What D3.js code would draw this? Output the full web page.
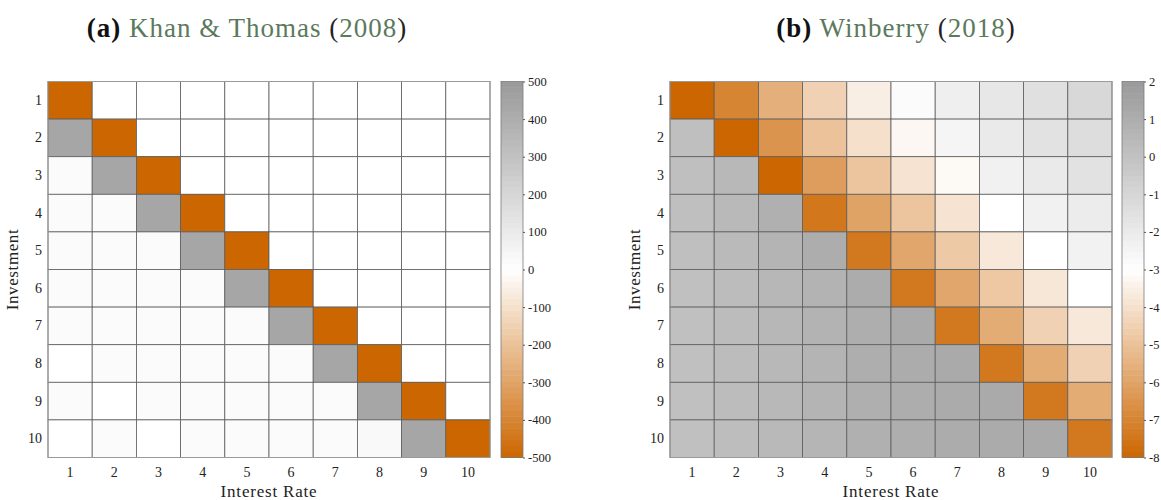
<!DOCTYPE html>
<html>
<head>
<meta charset="utf-8">
<script src="https://cdn.jsdelivr.net/npm/d3@7"></script>
<style>
  body { margin: 0; background: #fff; }
  svg text { font-family: "Liberation Serif", "DejaVu Serif", serif; fill: #222; }
</style>
</head>
<body>
<div id="chart"></div>
<script>
const W = 1161, H = 500;

// categories
const rates = ["1", "2", "3", "4", "5", "6", "7", "8", "9", "10"];
const invest = ["1", "2", "3", "4", "5", "6", "7", "8", "9", "10"];

// (a) Khan & Thomas (2008) -- rows = investment, cols = interest rate
const khanThomas = [
  [-500,    0,    0,    0,    0,    0,    0,    0,    0,    0],
  [ 435, -500,    0,    0,    0,    0,    0,    0,    0,    0],
  [  22,  435, -500,    0,    0,    0,    0,    0,    0,    0],
  [  22,   22,  435, -500,    0,    0,    0,    0,    0,    0],
  [  22,   22,   22,  435, -500,    0,    0,    0,    0,    0],
  [  22,   22,   22,   22,  435, -500,    0,    0,    0,    0],
  [  22,   22,   22,   22,   18,  435, -500,    0,    0,    0],
  [   2,   22,   22,   22,   22,   22,  435, -500,    0,    0],
  [  22,    2,   22,   22,   22,   22,   22,  435, -500,    0],
  [   2,   22,    2,   20,   22,   22,   22,   30,  435, -500]
];

// (b) Winberry (2018)
const winberry = [
  [-8.0, -7.0, -5.6, -4.5, -3.55, -2.8, -2.2, -1.8, -1.5, -1.1],
  [0.15, -8.0, -6.5, -5.0, -4.0, -3.25, -2.5, -1.95, -1.6, -1.35],
  [0.15, 0.5, -8.0, -6.2, -4.9, -3.9, -3.2, -2.3, -1.95, -1.6],
  [0.12, 0.45, 0.85, -7.45, -6.0, -4.9, -3.9, -3.0, -2.3, -2.05],
  [0.12, 0.4, 0.7, 1.0, -7.4, -5.9, -4.75, -3.75, -3.0, -2.35],
  [0.1, 0.3, 0.55, 0.75, 1.05, -7.4, -5.9, -4.8, -3.8, -3.0],
  [0.1, 0.3, 0.55, 0.75, 0.95, 1.15, -7.4, -5.7, -4.5, -3.75],
  [0.1, 0.3, 0.5, 0.7, 0.95, 1.05, 1.15, -7.4, -5.7, -4.5],
  [0.1, 0.3, 0.5, 0.7, 0.9, 1.0, 1.1, 1.15, -7.4, -5.7],
  [0.1, 0.25, 0.45, 0.65, 0.85, 0.95, 1.05, 1.1, 1.15, -7.4]
];

// colorbar ticks
const ticksA = [500, 400, 300, 200, 100, 0, -100, -200, -300, -400, -500];
const ticksB = [2, 1, 0, -1, -2, -3, -4, -5, -6, -7, -8];

const svg = d3.select("#chart").append("svg")
  .attr("width", W).attr("height", H);

const green = "#5b7a5c";

function panel(opts) {
  const {data, x0, x1, cb0, domain, ticks, tag, author, year, titleX} = opts;
  const y0 = 81.5, y1 = 457.5;

  const color = d3.scaleLinear()
    .domain([domain[0], (domain[0] + domain[1]) / 2, domain[1]])
    .range(["#cc6600", "#ffffff", "#999999"]);

  const x = d3.scaleBand().domain(rates).range([x0, x1]);
  const y = d3.scaleBand().domain(invest).range([y0, y1]);

  const g = svg.append("g");

  // cells
  const cells = [];
  data.forEach((row, i) => row.forEach((v, j) => cells.push({r: invest[i], c: rates[j], v})));
  g.selectAll("rect.cell")
    .data(cells)
    .enter().append("rect")
    .attr("class", "cell")
    .attr("x", d => x(d.c))
    .attr("y", d => y(d.r))
    .attr("width", x.bandwidth())
    .attr("height", y.bandwidth())
    .attr("fill", d => color(d.v))
    .attr("stroke", "#5e5e5e")
    .attr("stroke-width", 0.8);

  g.append("rect")
    .attr("x", x0).attr("y", y0)
    .attr("width", x1 - x0).attr("height", y1 - y0)
    .attr("fill", "none").attr("stroke", "#9a9a9a").attr("stroke-width", 1);

  // axes (labels only)
  const xAxis = g.append("g")
    .attr("transform", "translate(0," + (y1 + 4) + ")")
    .call(d3.axisBottom(x).tickSize(0).tickPadding(6));
  xAxis.select(".domain").remove();
  xAxis.selectAll("text").style("font-size", "14px")
    .style("font-family", "'Liberation Serif', serif").attr("fill", "#222");

  const yAxis = g.append("g")
    .attr("transform", "translate(" + (x0 - 6) + ",0)")
    .call(d3.axisLeft(y).tickSize(0).tickPadding(0));
  yAxis.select(".domain").remove();
  yAxis.selectAll("text").style("font-size", "14px")
    .style("font-family", "'Liberation Serif', serif").attr("fill", "#222");

  g.append("text")
    .attr("x", (x0 + x1) / 2).attr("y", 497)
    .attr("text-anchor", "middle")
    .style("font-size", "17px")
    .style("letter-spacing", "0.8px")
    .text("Interest Rate");

  g.append("text")
    .attr("transform", "translate(" + (x0 - 30) + "," + ((y0 + y1) / 2) + ") rotate(-90)")
    .attr("text-anchor", "middle")
    .style("font-size", "17px")
    .style("letter-spacing", "0.6px")
    .text("Investment");

  // colorbar
  const cbY = d3.scaleLinear().domain(domain).range([y1, y0]);
  const nSteps = 64;
  const steps = d3.range(nSteps).map(k => domain[0] + (k + 0.5) * (domain[1] - domain[0]) / nSteps);
  const stepH = (y1 - y0) / nSteps;
  g.selectAll("rect.cb")
    .data(steps)
    .enter().append("rect")
    .attr("class", "cb")
    .attr("x", cb0)
    .attr("y", d => cbY(d) - stepH / 2)
    .attr("width", 22)
    .attr("height", stepH + 0.5)
    .attr("fill", d => color(d));
  g.append("rect")
    .attr("x", cb0).attr("y", y0)
    .attr("width", 22).attr("height", y1 - y0)
    .attr("fill", "none").attr("stroke", "#7a7a7a").attr("stroke-width", 0.8);

  const cbAxis = g.append("g")
    .attr("transform", "translate(" + (cb0 + 22) + ",0)")
    .call(d3.axisRight(cbY).tickValues(ticks).tickSize(2).tickPadding(3)
      .tickFormat(d => String(d)));
  cbAxis.select(".domain").remove();
  cbAxis.selectAll("line").attr("stroke", "#555");
  cbAxis.selectAll("text").style("font-size", "12.5px")
    .style("font-family", "'Liberation Serif', serif").attr("fill", "#222");

  // title
  const t = g.append("text")
    .attr("x", titleX).attr("y", 37)
    .attr("text-anchor", "middle")
    .style("font-size", "27px")
    .style("letter-spacing", "1px");
  t.append("tspan").style("font-weight", "bold").attr("fill", "#111").text("(" + tag + ")");
  t.append("tspan").attr("fill", green).text(" " + author);
  t.append("tspan").attr("fill", "#222").text(" (");
  t.append("tspan").attr("fill", green).text(year);
  t.append("tspan").attr("fill", "#222").text(")");
}

panel({data: khanThomas, x0: 48, x1: 490, cb0: 501, domain: [-500, 500], ticks: ticksA,
  tag: "a", author: "Khan & Thomas", year: "2008", titleX: 247});
panel({data: winberry, x0: 670, x1: 1112, cb0: 1122, domain: [-8, 2], ticks: ticksB,
  tag: "b", author: "Winberry", year: "2018", titleX: 896});
</script>
</body>
</html>
